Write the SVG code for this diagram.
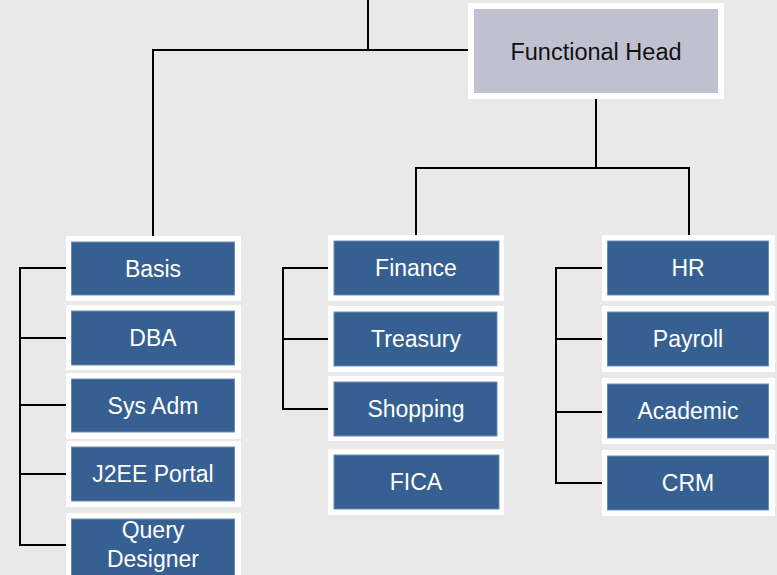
<svg xmlns="http://www.w3.org/2000/svg" width="777" height="575" viewBox="0 0 777 575">
<style>
.outer{fill:#ffffff}
.blue{fill:#366092;stroke:#6e8db5;stroke-width:1}
.head{fill:#c0c1d0}
.lbl{font-family:"Liberation Sans",Arial,sans-serif;font-size:23px;fill:#ffffff;text-anchor:middle}
.hlbl{font-family:"Liberation Sans",Arial,sans-serif;font-size:23.5px;fill:#111111;text-anchor:middle}
.conn{fill:none;stroke:#000000;stroke-width:2}
</style>
<rect x="0" y="0" width="777" height="575" fill="#e9e9e9"/>
<g id="connectors">
<path class="conn" d="M368,0 V50"/>
<path class="conn" d="M153,236 V50 H468"/>
<path class="conn" d="M596,99 V168 M416,235 V168 H689 V235"/>
<path class="conn" d="M66,268 H20 V545 H66 M20,338 H66 M20,405 H66 M20,474 H66"/>
<path class="conn" d="M328,268 H283 V409 H328 M283,339 H328"/>
<path class="conn" d="M602,268 H556 V483 H602 M556,339 H602 M556,412 H602"/>
</g>
<g id="functional-head">
<rect class="outer" x="468" y="3" width="256" height="96"/>
<rect class="head" x="474" y="9" width="244" height="84"/>
<text class="hlbl" x="596" y="60">Functional Head</text>
</g>
<g id="basis">
<rect class="outer" x="66" y="236" width="175" height="65"/>
<rect class="blue" x="71.5" y="242" width="163" height="53"/>
<text class="lbl" x="153" y="277">Basis</text>
</g>
<g id="dba">
<rect class="outer" x="66" y="305" width="175" height="65"/>
<rect class="blue" x="71.5" y="311" width="163" height="54"/>
<text class="lbl" x="153" y="346">DBA</text>
</g>
<g id="sys-adm">
<rect class="outer" x="66" y="373" width="175" height="66"/>
<rect class="blue" x="71.5" y="379" width="163" height="53"/>
<text class="lbl" x="153" y="414">Sys Adm</text>
</g>
<g id="j2ee-portal">
<rect class="outer" x="66" y="441" width="175" height="66"/>
<rect class="blue" x="71.5" y="447" width="163" height="54"/>
<text class="lbl" x="153" y="482">J2EE Portal</text>
</g>
<g id="query-designer">
<rect class="outer" x="66" y="513" width="175" height="70"/>
<rect class="blue" x="71.5" y="519" width="163" height="60"/>
<text class="lbl" x="153" y="538">Query</text>
<text class="lbl" x="153" y="567">Designer</text>
</g>
<g id="finance">
<rect class="outer" x="328" y="235" width="176" height="66"/>
<rect class="blue" x="334" y="241" width="165" height="54"/>
<text class="lbl" x="416" y="276">Finance</text>
</g>
<g id="treasury">
<rect class="outer" x="328" y="306" width="176" height="66"/>
<rect class="blue" x="334" y="312" width="163" height="54"/>
<text class="lbl" x="416" y="347">Treasury</text>
</g>
<g id="shopping">
<rect class="outer" x="328" y="376" width="176" height="65"/>
<rect class="blue" x="334" y="382" width="163" height="54"/>
<text class="lbl" x="416" y="417">Shopping</text>
</g>
<g id="fica">
<rect class="outer" x="328" y="449" width="176" height="66"/>
<rect class="blue" x="334" y="455" width="165" height="54"/>
<text class="lbl" x="416" y="490">FICA</text>
</g>
<g id="hr">
<rect class="outer" x="602" y="235" width="173" height="66"/>
<rect class="blue" x="607.5" y="241" width="161" height="54"/>
<text class="lbl" x="688" y="276">HR</text>
</g>
<g id="payroll">
<rect class="outer" x="602" y="306" width="173" height="66"/>
<rect class="blue" x="607.5" y="312" width="161" height="54"/>
<text class="lbl" x="688" y="347">Payroll</text>
</g>
<g id="academic">
<rect class="outer" x="602" y="378" width="173" height="66"/>
<rect class="blue" x="607.5" y="384" width="161" height="54"/>
<text class="lbl" x="688" y="419">Academic</text>
</g>
<g id="crm">
<rect class="outer" x="602" y="450" width="173" height="66"/>
<rect class="blue" x="607.5" y="456" width="161" height="54"/>
<text class="lbl" x="688" y="491">CRM</text>
</g>
</svg>
